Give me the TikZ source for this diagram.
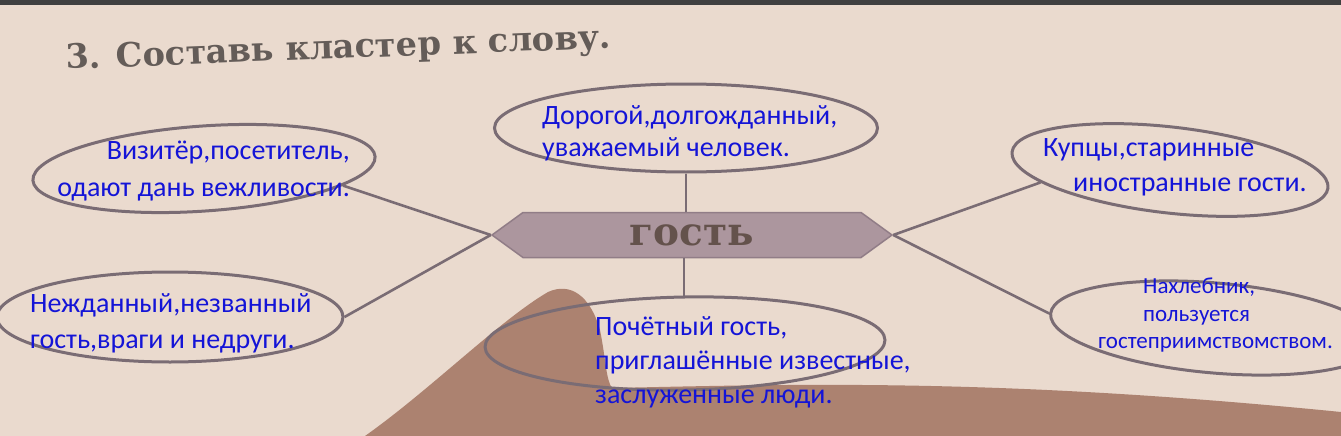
\documentclass[tikz,border=0pt]{standalone}
\usepackage{fontspec}
\newfontfamily\notefont{Carlito}
\newfontfamily\bookfont{DejaVu Serif}
\usetikzlibrary{shapes.geometric,shapes.symbols}
\definecolor{paperbg}{RGB}{234,218,206}
\definecolor{dusk}{RGB}{172,130,112}
\definecolor{inkblue}{RGB}{20,20,215}
\definecolor{ovalgray}{RGB}{122,108,116}
\definecolor{hexfill}{RGB}{172,150,158}
\definecolor{hexedge}{RGB}{145,125,135}
\definecolor{hextext}{RGB}{100,82,76}
\definecolor{titlegray}{RGB}{100,92,88}

\begin{document}
\begin{tikzpicture}[x=1pt,y=-1pt,oval/.style={ellipse,draw=ovalgray,line width=3pt,inner sep=0pt},link/.style={draw=ovalgray,line width=2.6pt},note/.style 2 args={text=inkblue,inner sep=0pt,font=\notefont\fontsize{#1}{#2}\selectfont}]
\useasboundingbox (0,0) rectangle (1341,436);
\fill[paperbg] (0,0) rectangle (1341,436);
\fill[black!75] (0,0) rectangle (1341,5);
\fill[dusk] (365,436) .. controls (430,390) and (500,320) .. (548,292) .. controls (570,282) and (590,295) .. (600,330) .. controls (606,360) and (606,380) .. (612,388) .. controls (800,384) and (1000,378) .. (1341,412) -- (1341,436) -- cycle;
\node[anchor=base west,rotate=2.2,text=titlegray,inner sep=0pt,font=\bookfont\bfseries\fontsize{33.5}{40}\selectfont] (title) at (66,69) {3. Составь кластер к слову.};
\node[signal,signal to=west and east,signal pointer angle=72,fill=hexfill,draw=hexedge,line width=1.5pt,minimum width=400pt,minimum height=45pt,inner sep=0pt,text=hextext,font=\bookfont\bfseries\fontsize{39}{44}\selectfont] (guest) at (692,235) {гость};
\node[oval,minimum width=343pt,minimum height=85pt,rotate=4] (visitor) at (204,168.5) {};
\node[oval,minimum width=383pt,minimum height=88pt] (dear) at (686,128) {};
\node[oval,minimum width=318pt,minimum height=86pt,rotate=-6.5] (merchants) at (1170,170) {};
\node[oval,minimum width=346pt,minimum height=90pt] (uninvited) at (170,317) {};
\node[oval,minimum width=400pt,minimum height=93pt,rotate=1] (honored) at (685,343.5) {};
\node[oval,minimum width=330pt,minimum height=90pt,rotate=-5] (sponger) at (1215,328) {};
\draw[link] (visitor.-11) -- (guest.west);
\draw[link] (uninvited.east) -- (guest.west);
\draw[link] (guest.east) -- (merchants.192);
\draw[link] (guest.east) -- (sponger.west);
\draw[link] (dear.south) -- (dear.south |- guest.north);
\draw[link] (honored.north |- guest.south) -- (honored.north);
\node[note={28}{37},anchor=north east,align=right] (visitortxt) at (350,141) {Визитёр,посетитель,\\одают дань вежливости.};
\node[note={28}{32},anchor=north west,align=left] (deartxt) at (542,105) {Дорогой,долгожданный,\\уважаемый человек.};
\node[note={28}{35},anchor=north west,align=left] (merchantstxt) at (1043,138) {Купцы,старинные\\\hspace*{30pt}иностранные гости.};
\node[note={28}{36},anchor=north west,align=left] (uninvitedtxt) at (30,293) {Нежданный,незванный\\гость,враги и недруги.};
\node[note={28}{34},anchor=north west,align=left] (honoredtxt) at (595,316) {Почётный гость,\\приглашённые известные,\\заслуженные люди.};
\node[note={23}{27.5},anchor=north west,align=left] (spongertxt) at (1098,278) {\hspace*{45pt}Нахлебник,\\\hspace*{45pt}пользуется\\гостеприимствомством.};
\end{tikzpicture}
\end{document}
